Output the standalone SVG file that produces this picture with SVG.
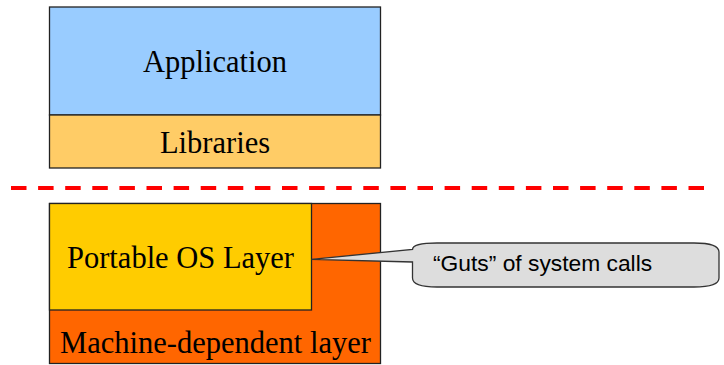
<svg xmlns="http://www.w3.org/2000/svg" width="724" height="365" viewBox="0 0 724 365">
  <style>
    .box { stroke: #222; stroke-width: 1.3; }
    .serif { font-family: "Liberation Serif", "Times New Roman", serif; font-size: 30.5px; fill: #000; text-anchor: middle; }
    .sans { font-family: "Liberation Sans", Arial, sans-serif; font-size: 22.8px; fill: #000; }
  </style>
  <rect width="724" height="365" fill="#fff"/>

  <!-- upper stack: application over libraries -->
  <g id="application">
    <rect class="box" x="49.5" y="7" width="331" height="108" fill="#99ccff"/>
    <text class="serif" x="215" y="72">Application</text>
  </g>
  <g id="libraries">
    <rect class="box" x="49.5" y="115" width="331" height="53" fill="#ffcc66"/>
    <text class="serif" x="215" y="153">Libraries</text>
  </g>

  <!-- boundary between user space and the kernel -->
  <g id="boundary">
    <line x1="11" y1="188" x2="704" y2="188" stroke="#ff0000" stroke-width="4" stroke-dasharray="15.5 11.6"/>
  </g>

  <!-- lower stack: machine-dependent layer containing the portable layer -->
  <g id="machine-dependent">
    <rect class="box" x="49.5" y="203.5" width="331" height="160" fill="#ff6600"/>
    <text class="serif" x="215.5" y="353">Machine-dependent layer</text>
  </g>
  <g id="portable-os">
    <rect class="box" x="49.5" y="203.5" width="262" height="106.5" fill="#ffcc00"/>
    <text class="serif" x="180.5" y="267.5">Portable OS Layer</text>
  </g>

  <!-- callout bubble pointing at the portable layer -->
  <g id="connectors">
    <g id="guts-callout">
      <path d="M 437,243 L 694,243 Q 719,243 719,252 L 719,278 Q 719,287 694,287 L 437,287 Q 412.5,287 412.5,278 L 412.5,262 L 311.5,259.3 L 412.5,249.5 Q 412.5,243 437,243 Z" fill="#dddddd" stroke="#333" stroke-width="1.3"/>
      <text class="sans" x="433" y="271">“Guts” of system calls</text>
    </g>
  </g>
</svg>
